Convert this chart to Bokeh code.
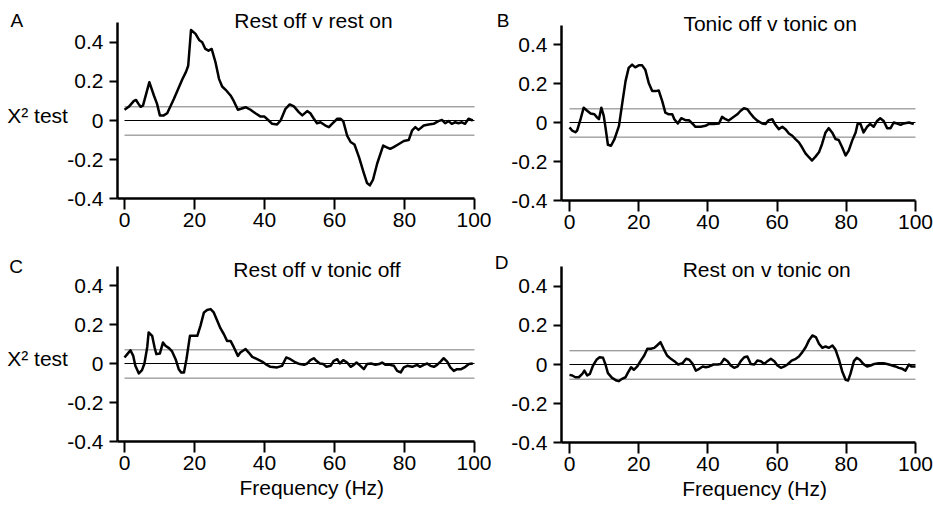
from bokeh.plotting import figure
from bokeh.layouts import column, row
from bokeh.models import Label, FixedTicker, LinearAxis
from bokeh.embed import file_html
from bokeh.resources import INLINE

# ---------------- data ----------------
freq_a = [0, 1.2, 2.7, 3.3, 4, 4.6, 5.3, 7.1, 8.4, 9.3, 10.1, 11.2, 12.2, 14.1, 16.5, 17.6, 18.2, 19.0,
          20.3, 21.4, 22.2, 23.1, 24, 24.9, 26, 27, 27.9, 28.9, 30.3, 31.2, 32.4, 33.3, 34.6, 36, 37.4,
          38.9, 40, 41.2, 42.2, 43.6, 44.6, 46, 47.2, 48.4, 49.8, 50.8, 52.2, 53.1, 54.1, 55, 56, 57.4,
          58.4, 59.3, 60.8, 61.7, 62.5, 63.6, 64.6, 65.7, 67, 68.4, 69.3, 70.1, 71, 72.2, 73.9, 74.8,
          75.9, 76.9, 78.4, 79.8, 81.2, 82.2, 83.1, 84, 85.5, 86.9, 88.3, 89.7, 90.7, 91.6, 92.6, 93.5,
          94.5, 95.4, 96.4, 97.3, 98.3, 99.5]
chi_a = [0.055, 0.07, 0.10, 0.105, 0.085, 0.07, 0.077, 0.196, 0.128, 0.085, 0.026, 0.026, 0.037, 0.11,
         0.21, 0.25, 0.28, 0.463, 0.443, 0.41, 0.40, 0.366, 0.357, 0.366, 0.298, 0.213, 0.174, 0.157,
         0.128, 0.10, 0.055, 0.06, 0.068, 0.055, 0.037, 0.02, 0.02, 0.0, -0.017, -0.02, 0.0, 0.06, 0.082,
         0.072, 0.043, 0.026, 0.048, 0.037, 0.009, -0.014, -0.009, -0.026, -0.034, -0.017, 0.009, 0.009,
         -0.003, -0.077, -0.11, -0.123, -0.187, -0.27, -0.32, -0.332, -0.303, -0.22, -0.128, -0.136,
         -0.145, -0.136, -0.12, -0.105, -0.1, -0.05, -0.034, -0.048, -0.026, -0.02, -0.017, -0.003,
         0.003, -0.014, -0.003, -0.017, -0.009, -0.014, -0.009, -0.017, 0.009, 0.0]

freq_b = [0, 0.8, 1.7, 2.2, 3.2, 4.1, 5.1, 6.1, 7.2, 8, 8.5, 9.2, 9.9, 10.4, 11.1, 12, 13, 14.3, 15.2,
          16.2, 17.1, 18.1, 19, 20, 21, 21.9, 22.9, 23.9, 24.9, 25.8, 26.8, 27.7, 28.7, 29.7, 30.3, 31.3,
          32.3, 33.5, 34.5, 35.5, 36.4, 37.9, 39.3, 40.2, 41.7, 43.2, 44.1, 45.1, 46, 47.5, 48.5, 49.4,
          50.4, 51.4, 52.3, 53.3, 54.4, 55.7, 56.6, 57.6, 58.6, 59.5, 60.5, 61.5, 62.4, 63.4, 64.4, 65.3,
          66.3, 67.2, 68.2, 69.2, 70.1, 71.1, 72.1, 73, 74, 74.9, 75.9, 76.9, 77.8, 78.8, 79.8, 80.7,
          81.7, 82.7, 83.3, 84.1, 85, 86, 86.9, 87.9, 88.9, 89.8, 90.8, 91.8, 92.8, 93.7, 94.7, 95.7,
          96.6, 98.1, 99.5]
chi_b = [-0.025, -0.042, -0.05, -0.042, 0.017, 0.076, 0.06, 0.046, 0.042, 0.025, 0.017, 0.076, 0.034,
         -0.025, -0.114, -0.119, -0.085, -0.017, 0.093, 0.212, 0.28, 0.297, 0.283, 0.293, 0.293, 0.271,
         0.203, 0.161, 0.161, 0.164, 0.11, 0.051, 0.042, 0.042, 0.017, -0.005, 0.022, 0.012, 0.012,
         -0.005, -0.022, -0.022, -0.017, -0.008, -0.008, -0.005, 0.029, 0.017, 0.01, 0.029, 0.042,
         0.059, 0.073, 0.068, 0.046, 0.025, 0.008, -0.005, -0.008, 0.012, 0.017, -0.012, -0.034, -0.022,
         -0.034, -0.056, -0.068, -0.085, -0.102, -0.127, -0.158, -0.178, -0.195, -0.175, -0.153, -0.11,
         -0.051, -0.029, -0.051, -0.085, -0.09, -0.127, -0.169, -0.144, -0.093, -0.051, -0.005, -0.008,
         -0.051, -0.022, -0.008, -0.022, 0.008, 0.022, 0.008, -0.029, -0.029, 0.0, -0.005, -0.012,
         -0.005, 0.0, -0.008]

freq_c = [0, 0.8, 1.7, 2.5, 3.1, 4.1, 5, 5.7, 6.5, 6.9, 7.9, 8.6, 9.1, 10.1, 11, 11.7, 12.7, 13.6, 14.6,
          15.5, 16.2, 17, 17.7, 18.7, 19.6, 20.8, 21.7, 22.7, 23.6, 24.6, 25.5, 26.5, 27.4, 28.4, 29.3,
          30.3, 31.2, 32.4, 33.1, 34.6, 35.5, 36.5, 37.9, 39.3, 40.3, 41.7, 43.6, 45, 46.2, 47.4, 48.9,
          50.1, 51.3, 52.2, 53.1, 54.1, 54.8, 55.8, 56.8, 57.7, 58.9, 59.8, 60.8, 61.5, 62.5, 63.6, 64.6,
          65.5, 66.3, 67.4, 68.4, 69.3, 70.5, 71.7, 72.7, 73.6, 74.6, 75.8, 77, 77.9, 78.9, 79.8, 80.8,
          82.2, 83.6, 84.4, 85.5, 86.5, 87.4, 88.4, 89.3, 90.3, 91.2, 92.2, 93.1, 94.1, 95, 96.2, 97.4,
          98.4, 99.5]
chi_c = [0.031, 0.048, 0.068, 0.039, -0.012, -0.051, -0.034, 0.0, 0.085, 0.159, 0.142, 0.082, 0.048,
         0.051, 0.108, 0.091, 0.079, 0.062, 0.022, -0.029, -0.046, -0.046, 0.022, 0.142, 0.142, 0.142,
         0.193, 0.262, 0.274, 0.279, 0.262, 0.219, 0.181, 0.15, 0.116, 0.116, 0.085, 0.039, 0.056, 0.074,
         0.056, 0.034, 0.022, 0.01, -0.003, -0.017, -0.02, -0.012, 0.031, 0.022, 0.005, -0.003, -0.007,
         0.0, 0.017, 0.027, 0.014, 0.0, -0.003, -0.017, -0.012, 0.014, 0.022, 0.0, 0.017, 0.005, -0.017,
         -0.007, 0.005, -0.012, -0.029, -0.003, 0.0, -0.007, -0.003, 0.005, -0.007, -0.007, -0.012,
         -0.038, -0.046, -0.02, -0.012, -0.017, -0.007, -0.017, -0.007, 0.0, -0.012, -0.017, -0.007,
         0.01, 0.027, 0.01, -0.02, -0.038, -0.029, -0.029, -0.017, -0.003, 0.0]

freq_d = [0, 0.8, 1.7, 2.7, 3.7, 4.3, 5.1, 5.9, 6.8, 7.8, 8.7, 9.7, 10.4, 11.1, 12.3, 13.6, 14.2, 15.2,
          16.2, 16.8, 17.8, 18.6, 19.6, 20.6, 21.6, 22.5, 23.5, 24.5, 25.3, 26.3, 27.2, 28.2, 29.3, 30.3,
          31.4, 32.7, 33.7, 34.6, 35.6, 36.5, 37.5, 38.5, 39.4, 40.4, 41.6, 42.8, 43.7, 44.7, 45.7, 46.6,
          47.6, 48.6, 49.5, 50.5, 51.4, 52.4, 53.4, 54.3, 55.3, 56.3, 57.2, 58.2, 59.2, 60.1, 61.1, 62.1,
          63, 64.2, 65.4, 66.3, 67.3, 68.3, 69.2, 70.2, 71.2, 72.1, 73.1, 74, 75, 76, 76.9, 77.9, 78.8,
          79.8, 80.5, 81.2, 82.2, 83, 83.9, 84.9, 86, 87, 88.1, 89.4, 90.8, 92.3, 93.3, 94.2, 95.2, 96.2,
          97.1, 98.1, 98.8, 100]
chi_d = [-0.053, -0.056, -0.065, -0.065, -0.048, -0.031, -0.056, -0.048, -0.005, 0.024, 0.037, 0.034,
         0.0, -0.044, -0.068, -0.082, -0.085, -0.073, -0.065, -0.044, -0.014, -0.027, -0.01, 0.02, 0.046,
         0.08, 0.08, 0.085, 0.097, 0.114, 0.08, 0.046, 0.029, 0.017, 0.0, 0.007, 0.029, 0.024, 0.003,
         -0.031, -0.022, -0.01, -0.014, -0.01, 0.0, 0.0, 0.003, 0.029, 0.017, -0.005, -0.017, -0.01,
         0.017, 0.037, 0.041, 0.003, 0.0, 0.02, 0.017, 0.003, 0.017, 0.029, 0.017, -0.005, -0.017, -0.01,
         0.0, 0.02, 0.029, 0.041, 0.063, 0.089, 0.123, 0.148, 0.14, 0.106, 0.085, 0.092, 0.085, 0.097,
         0.075, 0.024, -0.034, -0.078, -0.082, -0.048, 0.017, 0.034, 0.024, 0.003, -0.01, -0.005, 0.003,
         0.007, 0.007, 0.0, -0.005, -0.01, -0.017, -0.022, -0.031, 0.0, -0.01, -0.01]

titles = ["Rest off v rest on", "Tonic off v tonic on", "Rest off v tonic off", "Rest on v tonic on"]
letters = ["A", "B", "C", "D"]
x_ticks = [0, 20, 40, 60, 80, 100]
y_ticks = [-0.4, -0.2, 0, 0.2, 0.4]
y_tick_labels = ["-0.4", "-0.2", "0", "0.2", "0.4"]
limit_freq = [0, 100]
upper_limit = 0.07
lower_limit = -0.075
y_label = "X\u00b2 test"
x_label = "Frequency (Hz)"

FONT = "Liberation Sans"
FS = "21px"
Y_MIN, Y_MAX = -0.4, 0.5


def make_panel(freq, chi, title, letter, geom, title_pos, letter_pos, left_col, bottom_row):
    # canvas geometry: width, height, pixel of 0 Hz, px per Hz, pixel of y=0, px per unit, y-axis Hz
    width, height, zero_x, px_hz, zero_y, px_unit, yaxis_at = geom
    x_range = (-zero_x / px_hz, (width - zero_x) / px_hz)
    y_range = (-(height - zero_y) / px_unit, zero_y / px_unit)

    p = figure(width=width, height=height, frame_width=width, frame_height=height,
               x_range=x_range, y_range=y_range, min_border=0,
               x_axis_location=None, y_axis_location=None,
               toolbar_location=None, output_backend="svg", tools="")
    p.outline_line_color = None
    p.grid.visible = False
    p.background_fill_color = "white"
    p.border_fill_color = "white"

    xaxis = LinearAxis(fixed_location=Y_MIN, bounds=(yaxis_at, 100),
                       ticker=FixedTicker(ticks=x_ticks))
    yaxis = LinearAxis(fixed_location=yaxis_at, bounds=(Y_MIN, Y_MAX),
                       ticker=FixedTicker(ticks=y_ticks),
                       major_label_overrides={t: l for t, l in zip(y_ticks, y_tick_labels)})
    for ax in (xaxis, yaxis):
        ax.axis_line_width = 2.5
        ax.axis_line_color = "black"
        ax.major_tick_line_width = 2
        ax.major_tick_line_color = "black"
        ax.major_tick_in = 0
        ax.minor_tick_line_color = None
        ax.major_label_text_font = FONT
        ax.major_label_text_font_size = FS
        ax.major_label_text_color = "black"
    xaxis.major_tick_out = 11
    xaxis.major_label_standoff = 3
    yaxis.major_tick_out = 8
    yaxis.major_label_standoff = 6
    p.add_layout(xaxis, "below")
    p.add_layout(yaxis, "left")

    # significance limits and zero line
    p.line(limit_freq, [upper_limit, upper_limit], line_color="#7a7a7a", line_width=1)
    p.line(limit_freq, [lower_limit, lower_limit], line_color="#7a7a7a", line_width=1)
    p.line(limit_freq, [0, 0], line_color="black", line_width=1.2)

    # data curve
    p.line(freq, chi, line_color="black", line_width=2.5, line_join="round")

    p.add_layout(Label(x=title_pos[0], y=title_pos[1], text=title, text_align="center",
                       text_baseline="middle", text_font=FONT, text_font_size=FS,
                       text_color="black"))
    p.add_layout(Label(x=letter_pos[0], y=letter_pos[1], text=letter, text_align="left",
                       text_baseline="middle", text_font=FONT, text_font_size="19px",
                       text_color="black"))
    if left_col:
        p.add_layout(Label(x=-33.5, y=0.025, text=y_label, text_align="left",
                           text_baseline="middle", text_font=FONT, text_font_size=FS,
                           text_color="black"))
    if bottom_row:
        p.add_layout(Label(x=53.5, y=-0.635, text=x_label, text_align="center",
                           text_baseline="middle", text_font=FONT, text_font_size=FS,
                           text_color="black"))
    return p


pa = make_panel(freq_a, chi_a, titles[0], letters[0], (491, 251, 124, 3.5, 120, 195.5, -2.0),
                (54, 0.509), (-32.6, 0.511), True, False)
pb = make_panel(freq_b, chi_b, titles[1], letters[1], (442, 251, 78, 3.46, 122, 195.0, -2.3),
                (58, 0.51), (-21.0, 0.523), False, False)
pc = make_panel(freq_c, chi_c, titles[2], letters[2], (491, 260, 124, 3.5, 112, 195.0, -2.0),
                (55, 0.482), (-32.9, 0.497), True, True)
pd = make_panel(freq_d, chi_d, titles[3], letters[3], (442, 260, 78, 3.46, 113, 196.0, -2.3),
                (57, 0.487), (-21.6, 0.518), False, True)

layout = column(row(pa, pb), row(pc, pd))

open("out.html", "w").write(file_html(layout, INLINE))
